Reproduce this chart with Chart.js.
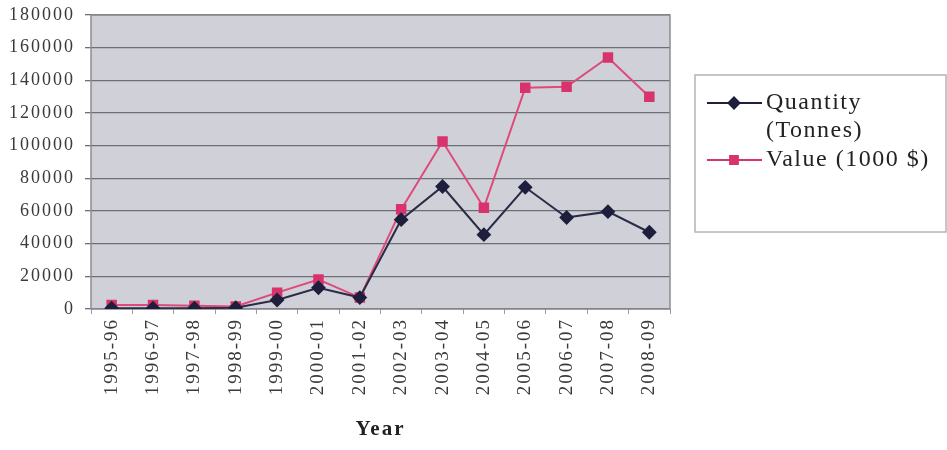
<!DOCTYPE html>
<html>
<head>
<meta charset="utf-8">
<script src="https://cdn.jsdelivr.net/npm/chart.js@4/dist/chart.umd.min.js"></script>
<style>
  html, body { margin: 0; padding: 0; background: #ffffff; }
  #wrap { width: 947px; height: 450px; position: relative; }
</style>
</head>
<body>
<div id="wrap"><canvas id="c" width="947" height="450"></canvas></div>
<script>
const years = ['1995-96','1996-97','1997-98','1998-99','1999-00','2000-01','2001-02',
               '2002-03','2003-04','2004-05','2005-06','2006-07','2007-08','2008-09'];
const quantityTonnes = [500, 500, 500, 800, 5500, 13000, 7000, 54700, 75000, 45500, 74500, 56000, 59600, 47000];
const value1000USD  = [2500, 2500, 2000, 1500, 10000, 18000, 7000, 61000, 102500, 62000, 135500, 136000, 154000, 130000];
const legendLines = [
  { lines: ['Quantity', '(Tonnes)'], color: '#1e1f3c', marker: 'rectRot' },
  { lines: ['Value (1000 $)'], color: '#d8336c', marker: 'rect' }
];

const SERIF = '"Liberation Serif", "Times New Roman", serif';

// wide-set lettering used throughout the figure
const spacing = {
  id: 'spacing',
  beforeUpdate(chart) { chart.ctx.letterSpacing = '2px'; },
  beforeDraw(chart) { chart.ctx.letterSpacing = '2px'; }
};

// grey plot background and frame
const plotFrame = {
  id: 'plotFrame',
  beforeDraw(chart) {
    const { ctx, chartArea: a } = chart;
    ctx.save();
    ctx.fillStyle = '#d0d0d8';
    ctx.fillRect(a.left, a.top, a.right - a.left, a.bottom - a.top);
    ctx.restore();
  },
  beforeDatasetsDraw(chart) {
    const { ctx, chartArea: a } = chart;
    ctx.save();
    ctx.strokeStyle = '#8c8c92';
    ctx.lineWidth = 1.5;
    ctx.strokeRect(a.left, a.top, a.right - a.left, a.bottom - a.top);
    ctx.restore();
  }
};

// boxed legend on the right with the wrapped series name
const sideLegend = {
  id: 'sideLegend',
  afterDraw(chart) {
    const ctx = chart.ctx;
    const x0 = 695, y0 = 75, x1 = 946, y1 = 232;
    ctx.save();
    ctx.fillStyle = '#ffffff';
    ctx.fillRect(x0, y0, x1 - x0, y1 - y0);
    ctx.strokeStyle = '#b4b4b8';
    ctx.lineWidth = 1.5;
    ctx.strokeRect(x0, y0, x1 - x0, y1 - y0);
    ctx.font = '24px ' + SERIF;
    ctx.letterSpacing = '1.5px';
    ctx.textBaseline = 'middle';
    ctx.textAlign = 'left';
    let y = 103;
    legendLines.forEach(item => {
      ctx.strokeStyle = item.color;
      ctx.lineWidth = 2;
      ctx.beginPath();
      ctx.moveTo(707, y);
      ctx.lineTo(762, y);
      ctx.stroke();
      Chart.helpers.drawPoint(ctx, { pointStyle: item.marker, radius: 5.5, borderWidth: 1 }, 734, y);
      ctx.fillStyle = item.color;
      ctx.fill();
      ctx.fillStyle = '#222222';
      item.lines.forEach((t, i) => {
        ctx.fillText(t, 766, y + i * 28);
      });
      y += item.lines.length * 28 + 1;
    });
    ctx.restore();
  }
};

new Chart(document.getElementById('c'), {
  type: 'line',
  data: {
    labels: years,
    datasets: [
      {
        label: 'Quantity (Tonnes)',
        data: quantityTonnes,
        borderColor: '#2a2b45',
        backgroundColor: '#1e1f3c',
        borderWidth: 2,
        pointStyle: 'rectRot',
        pointRadius: 6,
        pointHoverRadius: 6,
        pointBorderColor: '#1e1f3c',
        tension: 0
      },
      {
        label: 'Value (1000 $)',
        data: value1000USD,
        borderColor: '#de4a7a',
        backgroundColor: '#d8336c',
        borderWidth: 2,
        pointStyle: 'rect',
        pointRadius: 6,
        pointHoverRadius: 6,
        pointBorderColor: '#d8336c',
        tension: 0
      }
    ]
  },
  options: {
    responsive: false,
    animation: false,
    layout: { padding: { left: 0, right: 277, top: 15, bottom: 4 } },
    plugins: {
      legend: { display: false },
      tooltip: { enabled: false }
    },
    scales: {
      x: {
        offset: true,
        afterFit(scale) { scale.height = 137; },
        grid: { display: true, drawOnChartArea: false, offset: true, tickLength: 5, color: '#9a9aa0' },
        border: { display: false },
        ticks: {
          autoSkip: false,
          minRotation: 90,
          maxRotation: 90,
          padding: 4,
          color: '#3a3a3a',
          font: { family: SERIF, size: 19 }
        },
        title: {
          display: true,
          text: 'Year',
          color: '#222222',
          font: { family: SERIF, size: 21, weight: 'bold' },
          padding: { top: 4, bottom: 4 }
        }
      },
      y: {
        min: 0,
        max: 180000,
        afterFit(scale) { scale.width = 91; scale.paddingTop = 0; scale.paddingBottom = 0; },
        grid: { color: '#6e6e76', lineWidth: 1.3, tickLength: 6 },
        border: { display: false },
        ticks: {
          stepSize: 20000,
          padding: 10,
          color: '#3a3a3a',
          font: { family: SERIF, size: 18 },
          callback: v => String(v)
        }
      }
    }
  },
  plugins: [spacing, plotFrame, sideLegend]
});
</script>
</body>
</html>
